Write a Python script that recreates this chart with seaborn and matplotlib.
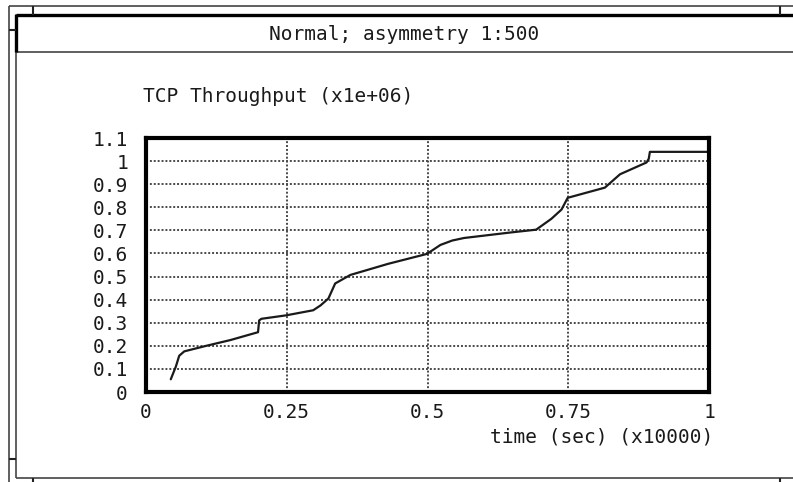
import matplotlib
matplotlib.use("Agg")
import matplotlib.pyplot as plt
from matplotlib.lines import Line2D
import seaborn as sns
import pandas as pd

# ---- data ----
time_x = [0.044, 0.053, 0.059, 0.068, 0.107, 0.150, 0.199, 0.201, 0.205, 0.249,
          0.297, 0.310, 0.324, 0.336, 0.363, 0.430, 0.499, 0.523, 0.544, 0.565,
          0.648, 0.693, 0.720, 0.738, 0.749, 0.815, 0.842, 0.889, 0.893, 0.895, 1.0]
throughput = [0.055, 0.110, 0.157, 0.176, 0.200, 0.225, 0.259, 0.310, 0.317, 0.332,
              0.354, 0.375, 0.405, 0.470, 0.507, 0.555, 0.598, 0.637, 0.656, 0.667,
              0.691, 0.703, 0.750, 0.790, 0.841, 0.885, 0.943, 0.994, 1.010, 1.040, 1.040]
x_ticks = [0, 0.25, 0.5, 0.75, 1]
x_tick_labels = ["0", "0.25", "0.5", "0.75", "1"]
y_ticks = [0, 0.1, 0.2, 0.3, 0.4, 0.5, 0.6, 0.7, 0.8, 0.9, 1.0, 1.1]
y_tick_labels = ["0", "0.1", "0.2", "0.3", "0.4", "0.5", "0.6", "0.7", "0.8", "0.9", "1", "1.1"]
title_text = "Normal; asymmetry 1:500"
y_title = "TCP Throughput (x1e+06)"
x_title = "time (sec) (x10000)"

sns.set_style("white")
plt.rcParams['font.family'] = ['DejaVu Sans Mono', 'DejaVu Sans']
FS = 14.0

W, H = 793, 482
fig = plt.figure(figsize=(W / 100, H / 100), dpi=100)

def fx(x):
    return x / W

def fy(y):
    return 1 - y / H

# axes placement (pixels)
L, R, T, B = 146, 709, 138, 392
ax = fig.add_axes([fx(L), fy(B), (R - L) / W, (B - T) / H])

df = pd.DataFrame({"t": time_x, "v": throughput})
sns.lineplot(data=df, x="t", y="v", ax=ax, color="#1a1a1a", linewidth=1.6,
             estimator=None, sort=False)

ax.set_xlim(0, 1)
ax.set_ylim(0, 1.1)
ax.set_xticks(x_ticks)
ax.set_xticklabels(x_tick_labels)
ax.set_yticks(y_ticks)
ax.set_yticklabels(y_tick_labels)
ax.tick_params(axis="both", length=0, labelsize=FS, colors="#1a1a1a")
ax.tick_params(axis="y", pad=13)
ax.tick_params(axis="x", pad=8)
ax.set_xlabel("")
ax.set_ylabel("")
ax.grid(True, color="#4a4a4a", linestyle=(0, (1, 1)), linewidth=1.4)
for s in ax.spines.values():
    s.set_visible(True)
    s.set_color("black")
    s.set_linewidth(3.0)

fig.text(fx(143), fy(96), y_title, fontsize=FS, ha="left", va="center", color="#1a1a1a")
fig.text(fx(713), fy(437), x_title, fontsize=FS, ha="right", va="center", color="#1a1a1a")
fig.text(fx(404), fy(34), title_text, fontsize=FS, ha="center", va="center", color="#1a1a1a")

# window frame decoration
def seg(x0, y0, x1, y1, lw=1.2, c="#444444"):
    fig.add_artist(Line2D([fx(x0), fx(x1)], [fy(y0), fy(y1)], lw=lw, color=c,
                          solid_capstyle="butt"))

seg(9, 6, 793, 6)            # outer top
seg(9, 6, 9, 482)            # outer left
seg(16, 52, 16, 478)         # inner left (thin)
seg(16, 478, 793, 478)       # inner bottom
seg(16, 52, 793, 52)         # title box bottom
seg(16, 15, 793, 15, lw=2.4, c="black")   # title box top (thick)
seg(16, 14, 16, 52, lw=2.4, c="black")    # title box left (thick)
seg(33, 6, 33, 15, lw=1.5, c="#222222")
seg(780, 6, 780, 15, lw=1.5, c="#222222")
seg(9, 30, 16, 30, lw=1.5, c="#222222")
seg(9, 459, 16, 459, lw=1.5, c="#222222")
seg(33, 478, 33, 482, lw=1.5, c="#222222")
seg(780, 478, 780, 482, lw=1.5, c="#222222")

fig.savefig("out.png", dpi=100, facecolor="white")
